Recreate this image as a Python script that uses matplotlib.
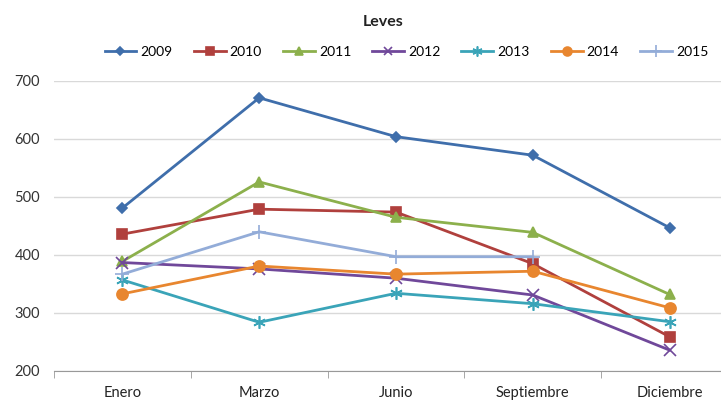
import numpy as np
import matplotlib.pyplot as plt
from matplotlib.ticker import FixedLocator

plt.rcParams['font.family'] = ['Lato', 'DejaVu Sans']

meses = ['Enero', 'Marzo', 'Junio', 'Septiembre', 'Diciembre']
anios = ['2009', '2010', '2011', '2012', '2013', '2014', '2015']

v2009 = [481, 671, 604, 572, 447]
v2010 = [436, 479, 474, 385, 259]
v2011 = [389, 526, 465, 439, 332]
v2012 = [387, 376, 360, 331, 236]
v2013 = [357, 284, 334, 316, 285]
v2014 = [333, 381, 367, 372, 309]
v2015 = [367, 440, 397, 397, np.nan]

series = [v2009, v2010, v2011, v2012, v2013, v2014, v2015]
colores = ['#3f6eab', '#b0403d', '#8cb04c', '#70489a', '#3aa4b8', '#e8862f', '#93acd8']
# asterisco de seis brazos para 2013
marcas = ['D', 's', '^', 'x', (6, 2, 0), 'o', '+']
tamanos = [5.5, 7.5, 7.5, 8, 9, 8, 10]

fig = plt.figure(figsize=(7.21, 4.03), dpi=100)
ax = fig.add_axes([54 / 721, 32 / 403, 684 / 721, 290 / 403])

x = np.arange(len(meses))
for anio, vals, c, m, ms in zip(anios, series, colores, marcas, tamanos):
    ax.plot(x, vals, color=c, lw=2.0, marker=m, markersize=ms, label=anio,
            markerfacecolor=c, markeredgecolor=c, markeredgewidth=1.2)

ax.set_xlim(-0.5, 4.5)
ax.set_ylim(200, 700)
ax.set_yticks(range(200, 701, 100))
ax.grid(axis='y', color='#d9d9d9', lw=1)
ax.set_axisbelow(True)

ax.set_xticks(x)
ax.set_xticklabels(meses, fontsize=10.5, color='#222222')
ax.tick_params(axis='x', which='major', length=0, pad=11)
ax.xaxis.set_minor_locator(FixedLocator(np.arange(-0.5, 5, 1)))
ax.tick_params(axis='x', which='minor', length=5, color='#999999')
ax.tick_params(axis='y', length=0, labelsize=10.5, labelcolor='#333333', pad=10)

for s in ['left', 'right', 'top']:
    ax.spines[s].set_visible(False)
ax.spines['bottom'].set_color('#999999')

fig.text(383 / 721, 1 - 22 / 403, 'Leves', ha='center', va='center',
         fontsize=11.5, fontweight='bold', color='#222222')
fig.legend(loc='center left', bbox_to_anchor=(92 / 721, 1 - 52 / 403), ncol=7,
           frameon=False, fontsize=10, handlelength=2.3, columnspacing=1.5,
           handletextpad=0.3, markerscale=0.8)

fig.savefig('out.png', dpi=100)
